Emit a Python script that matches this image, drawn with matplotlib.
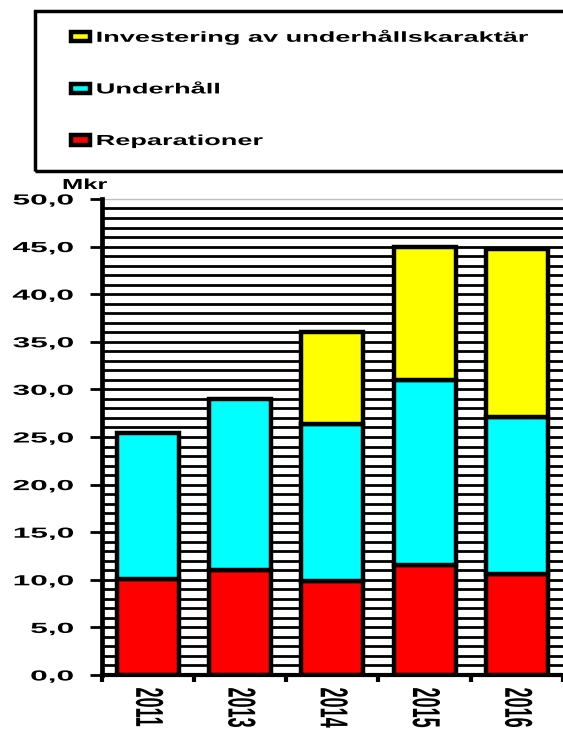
import numpy as np
import matplotlib
matplotlib.use("Agg")
import matplotlib.pyplot as plt
from matplotlib.patches import Rectangle
from matplotlib.patheffects import AbstractPathEffect
from matplotlib.transforms import Affine2D

years = ["2011", "2013", "2014", "2015", "2016"]
reparationer = [10.1, 11.0, 9.9, 11.6, 10.6]
underhall = [15.3, 18.0, 16.5, 19.4, 16.5]
investering = [0.0, 0.0, 9.6, 14.0, 17.6]

series_names = ["Reparationer", "Underhåll", "Investering av underhållskaraktär"]
series_colors = ["#ff0000", "#00ffff", "#ffff00"]

y_ticks = np.arange(0, 51, 5)
y_ticklabels = [f"{v:.1f}".replace(".", ",") for v in y_ticks]


class Stretch(AbstractPathEffect):
    """Draw text glyphs widened along the baseline (sx) or across it (sy)."""

    def __init__(self, sx=1.0, sy=1.0, anchor="left"):
        super().__init__()
        self.sx, self.sy, self.anchor = sx, sy, anchor

    def draw_path(self, renderer, gc, tpath, affine, rgbFace=None):
        ext = tpath.get_extents()
        cx = {"left": ext.x0, "right": ext.x1,
              "center": (ext.x0 + ext.x1) / 2}[self.anchor]
        cy = (ext.y0 + ext.y1) / 2
        pre = (Affine2D().translate(-cx, -cy)
               .scale(self.sx, self.sy).translate(cx, cy))
        renderer.draw_path(gc, tpath, pre + affine, rgbFace)


plt.rcParams["font.family"] = ["Liberation Sans", "DejaVu Sans"]
plt.rcParams["font.weight"] = "bold"

fig = plt.figure(figsize=(5.63, 7.31), dpi=100)
ax = fig.add_axes([0.1806, 0.0766, 0.8194, 0.6512])

x = np.arange(len(years))
bar_kw = dict(width=0.67, edgecolor="black", linewidth=3.2, zorder=3)
b1 = ax.bar(x, reparationer, color=series_colors[0], label=series_names[0], **bar_kw)
b2 = ax.bar(x, underhall, bottom=reparationer, color=series_colors[1],
            label=series_names[1], **bar_kw)
# yellow part only for the years that have it
inv = np.array(investering)
has_inv = inv > 0
bottom3 = np.add(reparationer, underhall)
b3 = ax.bar(x[has_inv], inv[has_inv], bottom=bottom3[has_inv],
            color=series_colors[2], label=series_names[2], **bar_kw)

# dense horizontal rules every 1 Mkr
ax.hlines(np.arange(1, 50), -0.5, 5, color="black", linewidth=2.0, zorder=1)

ax.set_xlim(-0.5, 4.392)
ax.set_ylim(0, 50)

ax.spines["right"].set_visible(False)
ax.spines["top"].set_color("#c0c0c0")
ax.spines["top"].set_linewidth(1.0)
ax.spines["left"].set_linewidth(3.4)
ax.spines["bottom"].set_linewidth(3.0)
ax.spines["left"].set_zorder(4)
ax.spines["bottom"].set_zorder(4)

ax.set_yticks(y_ticks)
ax.set_yticklabels(y_ticklabels, fontsize=10.5, fontweight="bold")
ax.tick_params(axis="y", direction="out", length=8.6, width=2.0, pad=11.5)

ax.set_xticks(np.arange(-0.5, 5, 1.0))
ax.set_xticklabels([])
ax.tick_params(axis="x", which="major", direction="out", length=5, width=3)
ax.set_xticks(x, minor=True)
ax.set_xticklabels(years, minor=True, rotation=-90, fontsize=13, fontweight="bold")
ax.tick_params(axis="x", which="minor", length=0, pad=9)

for lbl in ax.get_yticklabels():
    lbl.set_path_effects([Stretch(sx=2.17, anchor="right")])
for lbl in ax.get_xticklabels(minor=True):
    lbl.set_path_effects([Stretch(sy=2.15, anchor="center")])

mkr = fig.text(62.7 / 563, 1 - 189 / 731, "Mkr", fontsize=10.5, fontweight="bold",
               ha="left", va="baseline")
mkr.set_path_effects([Stretch(sx=1.75, anchor="left")])

# legend frame running off the right edge
fig.add_artist(Rectangle((34.5 / 563, 1 - 171 / 731), 1.0, 160 / 731,
                         transform=fig.transFigure, facecolor="none",
                         edgecolor="black", linewidth=2.5, clip_on=False))

leg = fig.legend(handles=[b3, b2, b1], labels=series_names[::-1],
                 loc="upper left", bbox_to_anchor=(71 / 563, 1 - 29.7 / 731),
                 frameon=False, borderpad=0, borderaxespad=0,
                 handlelength=1.3, handleheight=0.6, handletextpad=0.45,
                 labelspacing=2.58, prop={"weight": "bold", "size": 10.5})
for t in leg.get_texts():
    t.set_path_effects([Stretch(sx=1.86, anchor="left")])

fig.savefig("out.png", dpi=100)
